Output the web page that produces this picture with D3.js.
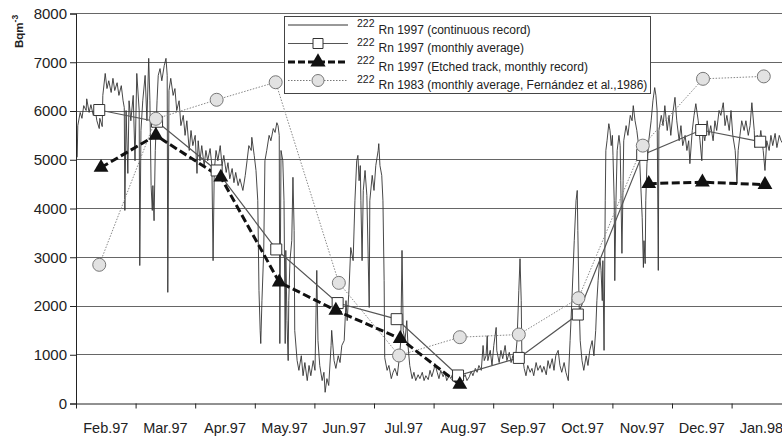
<!DOCTYPE html>
<html><head><meta charset="utf-8">
<script src="https://cdn.jsdelivr.net/npm/d3@7"></script>
<style>body{margin:0;background:#fff}svg{display:block}</style>
</head><body><svg id="c" width="782" height="436"></svg>
<script>
// ---------- data ----------
const monthLabels = ["Feb.97","Mar.97","Apr.97","May.97","Jun.97","Jul.97","Aug.97","Sep.97","Oct.97","Nov.97","Dec.97","Jan.98"];
const yTicks = [0,1000,2000,3000,4000,5000,6000,7000,8000];
const yLabel = "Bqm";

// month index (0 = start of Feb.97) for each monthly value
const avgT  = [0.39,1.36,2.36,3.36,4.39,5.38,6.41,7.43,8.42,9.50,10.49,11.48];
const avgV  = [6020,5780,4780,3160,2060,1730,575,935,1825,5100,5610,5370];
const etchT = [0.42,1.34,2.43,3.41,4.36,5.44,6.44,null,null,9.61,10.51,11.56];
const etchV = [4840,5500,4640,2490,1910,1330,390,null,null,4510,4540,4490];
const r83T  = [0.39,1.34,2.36,3.35,4.41,5.42,6.44,7.43,8.43,9.51,10.52,11.54];
const r83V  = [2845,5840,6230,6590,2475,985,1360,1415,2160,5290,6660,6710];

// continuous record [month index, Bq/m3]
const continuousRecord = [
[0.02,5050],[0.03,5700],[0.07,5970],[0.10,5850],[0.13,6110],[0.17,6010],[0.18,6250],[0.22,5970],[0.25,6130],[0.29,5910],
[0.32,6050],[0.35,5800],[0.39,5640],[0.40,5850],[0.44,5680],[0.45,6320],[0.49,6770],[0.52,6460],[0.55,6620],[0.59,6380],
[0.62,6670],[0.65,6420],[0.69,6580],[0.72,6320],[0.76,6520],[0.79,6210],[0.81,6070],[0.82,3960],[0.84,6010],[0.87,4720],
[0.89,6210],[0.92,5800],[0.96,6320],[0.99,4980],[1.02,6770],[1.06,6010],[1.07,2830],[1.09,5600],[1.12,6210],[1.16,6730],
[1.19,5800],[1.22,7080],[1.24,6210],[1.26,4470],[1.28,3960],[1.29,4470],[1.31,3750],[1.33,5190],[1.36,6210],[1.38,6730],
[1.41,6870],[1.44,6620],[1.48,6930],[1.51,7080],[1.53,6730],[1.54,2280],[1.56,6420],[1.59,6670],[1.63,6320],[1.66,6460],
[1.69,6010],[1.73,6210],[1.76,5700],[1.80,5910],[1.83,5500],[1.86,5800],[1.90,5190],[1.93,5600],[1.96,5290],[2.00,5500],
[2.03,4720],[2.05,5390],[2.08,4980],[2.11,5290],[2.15,4880],[2.18,5190],[2.21,4980],[2.25,5230],[2.28,4880],[2.30,2930],
[2.32,4780],[2.35,5190],[2.38,4980],[2.42,5290],[2.45,4880],[2.48,5090],[2.52,4740],[2.55,4940],[2.58,4610],[2.62,4820],
[2.65,4530],[2.68,4740],[2.72,4470],[2.75,4610],[2.80,4370],[2.84,4680],[2.87,4980],[2.90,5290],[2.94,5190],[2.95,5460],
[2.99,5090],[3.02,4780],[3.05,4160],[3.07,2320],[3.09,1500],[3.10,1230],[3.12,2110],[3.15,3140],[3.17,4980],[3.20,5190],
[3.24,5500],[3.27,5390],[3.31,5640],[3.34,5560],[3.37,5760],[3.39,5700],[3.41,5500],[3.42,1230],[3.44,5190],[3.47,4980],
[3.49,4160],[3.51,1230],[3.52,3140],[3.54,1700],[3.56,880],[3.57,2110],[3.59,2930],[3.62,3340],[3.64,4640],[3.66,3550],
[3.67,1500],[3.71,880],[3.74,680],[3.78,980],[3.81,570],[3.84,840],[3.88,470],[3.91,780],[3.94,570],[3.98,880],
[4.01,680],[4.04,2730],[4.06,1290],[4.09,780],[4.13,470],[4.16,640],[4.18,230],[4.21,510],[4.24,370],[4.28,1190],
[4.29,1500],[4.33,880],[4.36,720],[4.40,980],[4.43,840],[4.46,1190],[4.50,1290],[4.53,2110],[4.55,1700],[4.58,2320],
[4.61,3200],[4.65,2930],[4.68,4160],[4.71,4980],[4.73,5090],[4.75,4570],[4.77,4880],[4.78,4160],[4.80,2930],[4.82,4370],
[4.85,4780],[4.88,4270],[4.92,1970],[4.93,4160],[4.97,4680],[5.00,4370],[5.03,4880],[5.07,5190],[5.08,5330],[5.10,4880],
[5.13,4680],[5.15,4160],[5.17,2520],[5.18,940],[5.22,680],[5.25,780],[5.29,510],[5.32,640],[5.35,720],[5.39,570],
[5.42,880],[5.45,1290],[5.47,3140],[5.49,1500],[5.52,1290],[5.55,1700],[5.57,1190],[5.60,780],[5.64,510],[5.67,640],
[5.70,470],[5.74,590],[5.77,510],[5.81,640],[5.84,470],[5.87,570],[5.91,490],[5.94,680],[5.97,550],[6.01,720],
[6.02,820],[6.06,640],[6.09,510],[6.12,680],[6.16,550],[6.19,640],[6.22,470],[6.26,570],[6.29,510],[6.33,640],
[6.36,530],[6.39,470],[6.43,550],[6.46,430],[6.49,510],[6.53,590],[6.56,470],[6.60,550],[6.63,660],[6.66,570],
[6.70,720],[6.73,640],[6.76,780],[6.80,680],[6.83,1190],[6.85,880],[6.88,980],[6.90,1390],[6.91,880],[6.95,1090],
[6.98,780],[7.01,1190],[7.05,1560],[7.06,1090],[7.10,840],[7.13,1090],[7.16,920],[7.20,1190],[7.23,880],[7.27,1050],
[7.30,840],[7.33,980],[7.37,880],[7.40,1290],[7.43,2320],[7.45,2970],[7.47,2110],[7.48,1090],[7.52,720],[7.55,570],
[7.58,780],[7.62,640],[7.65,720],[7.68,570],[7.72,840],[7.75,680],[7.79,780],[7.82,640],[7.85,760],[7.89,590],
[7.92,880],[7.95,720],[7.99,920],[8.02,680],[8.05,980],[8.09,1090],[8.12,780],[8.15,640],[8.19,840],[8.22,640],
[8.26,470],[8.29,1290],[8.32,2110],[8.36,3340],[8.39,4160],[8.41,4370],[8.42,3550],[8.44,2110],[8.46,1290],[8.49,880],
[8.52,680],[8.56,980],[8.59,780],[8.62,1090],[8.66,1290],[8.69,980],[8.72,1500],[8.74,2110],[8.76,2520],[8.79,3000],
[8.81,2730],[8.83,2110],[8.84,2930],[8.86,1090],[8.88,4160],[8.89,5190],[8.91,5390],[8.94,5740],[8.96,5600],[8.98,5290],
[9.00,5500],[9.01,5090],[9.03,4160],[9.04,2520],[9.06,4160],[9.08,5190],[9.11,5500],[9.13,5290],[9.14,4570],[9.16,3080],
[9.18,4570],[9.19,5390],[9.23,5700],[9.26,5500],[9.30,5910],[9.33,5800],[9.35,6110],[9.38,5800],[9.41,5600],[9.45,5190],
[9.46,4920],[9.50,3810],[9.52,2790],[9.53,3340],[9.55,2870],[9.56,4160],[9.58,4920],[9.61,5390],[9.65,5800],[9.68,6210],
[9.71,6480],[9.73,6320],[9.75,6010],[9.77,2730],[9.78,5600],[9.82,5910],[9.85,5700],[9.88,6110],[9.92,5600],[9.95,5910],
[9.98,5500],[10.02,6010],[10.05,6280],[10.08,5800],[10.12,5390],[10.15,5700],[10.18,5290],[10.22,5500],[10.25,5190],[10.28,5390],
[10.30,4920],[10.34,5600],[10.37,5910],[10.40,6150],[10.44,5800],[10.47,5390],[10.50,4980],[10.52,5600],[10.55,5390],[10.59,5800],
[10.62,5500],[10.65,5700],[10.69,5390],[10.72,5800],[10.75,5600],[10.79,6010],[10.82,5910],[10.86,6170],[10.89,5700],[10.92,5910],
[10.96,5600],[10.99,6010],[11.02,5500],[11.06,5190],[11.09,4510],[11.11,5190],[11.14,5500],[11.17,5800],[11.21,5600],[11.24,5800],
[11.28,5500],[11.31,5700],[11.34,6170],[11.38,5600],[11.39,5250],[11.43,5500],[11.46,5290],[11.49,5600],[11.53,5190],[11.56,4780],
[11.59,5390],[11.63,5190],[11.66,5500],[11.69,5290],[11.73,5540],[11.76,5250],[11.80,5500],[11.83,5390],[11.88,5290]
];

const legendItems = [
  {sup:"222", text:"Rn 1997 (continuous record)", kind:"cont"},
  {sup:"222", text:"Rn 1997 (monthly average)", kind:"avg"},
  {sup:"222", text:"Rn 1997 (Etched track, monthly record)", kind:"etch"},
  {sup:"222", text:"Rn 1983 (monthly average, Fernández et al.,1986)", kind:"r83"}
];

// ---------- layout ----------
const W = 782, H = 436;
const x0 = 76, x1 = 791.2, yTop = 13.5, yBot = 403.5;
const FONT = "'Liberation Sans', Arial, sans-serif";

const svg = d3.select("#c");
const x = d3.scaleLinear().domain([0, 12]).range([x0, x1]);
const xb = d3.scaleBand().domain(monthLabels).range([x0, x1]).padding(0);
const y = d3.scaleLinear().domain([0, 8000]).range([yBot, yTop]);

svg.append("defs").append("clipPath").attr("id","clip")
  .append("rect").attr("x", x0).attr("y", 0).attr("width", W - x0).attr("height", yBot + 1);

// gridlines
const gy = d => Math.floor(y(d)) + 0.5;
svg.append("g").selectAll("line").data(yTicks.filter(d => d > 0)).join("line")
  .attr("x1", x0).attr("x2", W).attr("y1", gy).attr("y2", gy)
  .attr("stroke", "#666").attr("stroke-width", 1.2);

const plot = svg.append("g").attr("clip-path", "url(#clip)");

// continuous record
plot.append("path").datum(continuousRecord)
  .attr("fill","none").attr("stroke","#333").attr("stroke-width",0.9).attr("stroke-linejoin","round")
  .attr("d", d3.line().x(d => x(d[0])).y(d => y(d[1])));

const avgData = avgT.map((t,i) => ({t, v: avgV[i]}));
const etchData = etchT.map((t,i) => ({t, v: etchV[i]}));
const r83Data = r83T.map((t,i) => ({t, v: r83V[i]}));
const lineGen = d3.line().defined(d => d.v != null).x(d => x(d.t)).y(d => y(d.v));

// monthly average line
plot.append("path").datum(avgData).attr("fill","none").attr("stroke","#555").attr("stroke-width",1.2).attr("d", lineGen);
// 1983 dotted line
plot.append("path").datum(r83Data).attr("fill","none").attr("stroke","#888").attr("stroke-width",1).attr("stroke-dasharray","1.5,1.5").attr("d", lineGen);
// etched dashed line
plot.append("path").datum(etchData).attr("fill","none").attr("stroke","#111").attr("stroke-width",3).attr("stroke-dasharray","8,3.5").attr("d", lineGen);

const sq = d3.symbol(d3.symbolSquare, 121);
const tri = d3.symbol(d3.symbolTriangle, 95);

plot.append("g").selectAll("path").data(avgData).join("path")
  .attr("transform", d => `translate(${x(d.t)},${y(d.v)})`).attr("d", sq)
  .attr("fill","#fff").attr("stroke","#333").attr("stroke-width",1);
plot.append("g").selectAll("path").data(etchData.filter(d => d.v != null)).join("path")
  .attr("transform", d => `translate(${x(d.t)},${y(d.v)})`).attr("d", tri)
  .attr("fill","#111");
plot.append("g").selectAll("circle").data(r83Data).join("circle")
  .attr("cx", d => x(d.t)).attr("cy", d => y(d.v)).attr("r", 6.5)
  .attr("fill","#e2e2e2").attr("stroke","#777").attr("stroke-width",1);

// axes
const yAxis = svg.append("g").attr("transform", `translate(${x0},0)`)
  .call(d3.axisLeft(y).tickValues(yTicks).tickSize(6).tickPadding(3).tickFormat(d3.format("d")));
yAxis.selectAll("text").attr("font-family", FONT).attr("font-size", 15).attr("fill","#222");
yAxis.selectAll("line,path").attr("stroke","#222");

const xAxis = svg.append("g").attr("transform", `translate(0,${yBot})`)
  .call(d3.axisBottom(x).tickValues(d3.range(0, 12)).tickSize(5).tickSizeOuter(0).tickFormat(""));
xAxis.select(".domain").attr("d", `M${x0},0.5H${W}`);
xAxis.selectAll("line,path").attr("stroke","#222");

const xLab = svg.append("g").attr("transform", `translate(0,${yBot})`)
  .call(d3.axisBottom(xb).tickSize(0).tickPadding(19));
xLab.select(".domain").remove();
xLab.selectAll("text").attr("font-family", FONT).attr("font-size", 14.5).attr("fill","#222");

// y-axis title
const yt = svg.append("text").attr("transform","translate(23,48) rotate(-90)")
  .attr("font-family", FONT).attr("font-size", 11.5).attr("font-weight","bold").attr("fill","#222");
yt.append("tspan").text(yLabel);
yt.append("tspan").attr("dy", -5).attr("font-size", 8.5).text("-3");

// legend
const lg = svg.append("g");
lg.append("rect").attr("x", 284.5).attr("y", 16.5).attr("width", 366).attr("height", 77)
  .attr("fill","#fff").attr("stroke","#444").attr("stroke-width",1);
const rowY = [25, 43.5, 62, 80.5];
legendItems.forEach((it, i) => {
  const ry = rowY[i];
  const g = lg.append("g");
  if (it.kind === "cont") {
    g.append("line").attr("x1",288).attr("x2",348).attr("y1",ry).attr("y2",ry).attr("stroke","#333").attr("stroke-width",1);
  } else if (it.kind === "avg") {
    g.append("line").attr("x1",288).attr("x2",348).attr("y1",ry).attr("y2",ry).attr("stroke","#555").attr("stroke-width",1.2);
    g.append("path").attr("transform",`translate(318,${ry})`).attr("d", d3.symbol(d3.symbolSquare, 100)).attr("fill","#fff").attr("stroke","#333");
  } else if (it.kind === "etch") {
    g.append("line").attr("x1",288).attr("x2",348).attr("y1",ry).attr("y2",ry).attr("stroke","#111").attr("stroke-width",3).attr("stroke-dasharray","7,3");
    g.append("path").attr("transform",`translate(318,${ry})`).attr("d", d3.symbol(d3.symbolTriangle, 100)).attr("fill","#111");
  } else {
    g.append("line").attr("x1",288).attr("x2",348).attr("y1",ry).attr("y2",ry).attr("stroke","#777").attr("stroke-width",1).attr("stroke-dasharray","1.5,1.5");
    g.append("circle").attr("cx",318).attr("cy",ry).attr("r",6).attr("fill","#e2e2e2").attr("stroke","#777");
  }
  g.append("text").attr("x",357).attr("y",ry + 2).attr("font-family",FONT).attr("font-size",10.5).attr("fill","#222").text(it.sup);
  g.append("text").attr("x",378.5).attr("y",ry + 8.5).attr("font-family",FONT).attr("font-size",12).attr("fill","#222").text(it.text);
});
</script>
</body></html>
